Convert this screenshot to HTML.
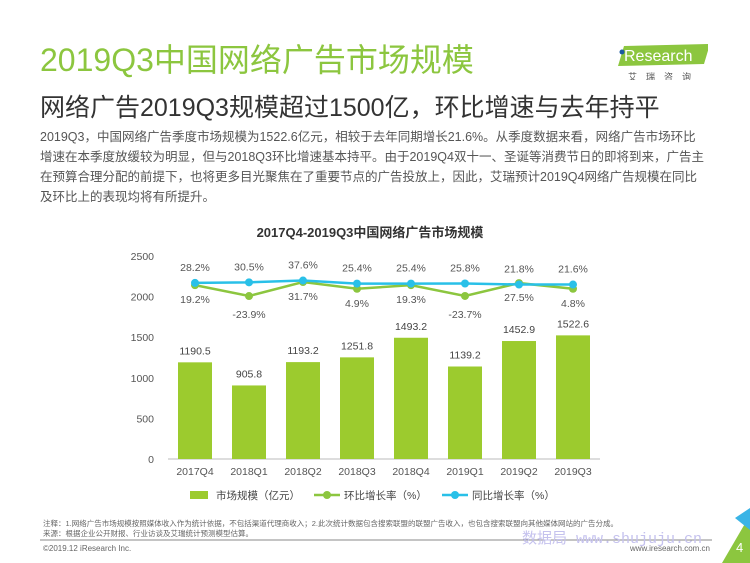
<!DOCTYPE html>
<html><head><meta charset="utf-8"><style>
body{margin:0;width:750px;height:563px;overflow:hidden;background:#fff;font-family:"Liberation Sans","Noto Sans CJK SC",sans-serif;position:relative}
.a{position:absolute;white-space:nowrap}
</style></head><body>
<div class="a" style="left:40px;top:35px;font-size:32px;color:#8cc63f">2019Q3中国网络广告市场规模</div>
<div class="a" style="left:40px;top:88px;font-size:25px;color:#333">网络广告2019Q3规模超过1500亿，环比增速与去年持平</div>
<div class="a" style="left:40px;top:127px;font-size:12.5px;color:#555;line-height:20px;white-space:normal;width:668px">2019Q3，中国网络广告季度市场规模为1522.6亿元，相较于去年同期增长21.6%。从季度数据来看，网络广告市场环比增速在本季度放缓较为明显，但与2018Q3环比增速基本持平。由于2019Q4双十一、圣诞等消费节日的即将到来，广告主在预算合理分配的前提下，也将更多目光聚焦在了重要节点的广告投放上，因此，艾瑞预计2019Q4网络广告规模在同比及环比上的表现均将有所提升。</div>
<div class="a" style="left:618px;top:40px;width:90px;height:28px">
<svg width="90" height="40"><polygon points="6,6 92,4 86,24 0,26" fill="#8cc63f"/><circle cx="4" cy="12" r="2.5" fill="#1a5aa0"/><text x="6" y="21" font-size="16" fill="#fff" font-family="Liberation Sans">Research</text><text x="10" y="40" font-size="9" fill="#555" letter-spacing="9" font-family="Noto Sans CJK SC">艾瑞咨询</text></svg></div>
<svg class="a" style="left:0;top:0" width="750" height="563" id="chart">
<text x="370" y="237" text-anchor="middle" font-size="13" font-weight="bold" fill="#333">2017Q4-2019Q3中国网络广告市场规模</text>
<g id="g"></g>
<line x1="40" y1="540" x2="712" y2="540" stroke="#888"/>
<text x="43" y="526" font-size="7.5" fill="#666">注释：1.网络广告市场规模按照媒体收入作为统计依据，不包括渠道代理商收入；2.此次统计数据包含搜索联盟的联盟广告收入，也包含搜索联盟向其他媒体网站的广告分成。</text>
<text x="43" y="536" font-size="7.5" fill="#666">来源：根据企业公开财报、行业访谈及艾瑞统计预测模型估算。</text>
<text x="522" y="543" font-size="15" fill="#c5c2ee" font-family="Liberation Mono, Noto Sans CJK SC, monospace">数据局 www.shujuju.cn</text>
<text x="43" y="551" font-size="8" fill="#666">©2019.12 iResearch Inc.</text>
<text x="710" y="551" font-size="8" fill="#666" text-anchor="end">www.iresearch.com.cn</text>
<polygon points="750,515 750,563 722,563" fill="#8cc63f"/>
<polygon points="735,518 750,508 750,530" fill="#3ab4e6"/>
<text x="736" y="552" font-size="13" fill="#fff">4</text>
</svg>
<script>
const categories=["2017Q4","2018Q1","2018Q2","2018Q3","2018Q4","2019Q1","2019Q2","2019Q3"];
const marketSize=[1190.5,905.8,1193.2,1251.8,1493.2,1139.2,1452.9,1522.6];
const qoqGrowth=[19.2,-23.9,31.7,4.9,19.3,-23.7,27.5,4.8];
const yoyGrowth=[28.2,30.5,37.6,25.4,25.4,25.8,21.8,21.6];
const yTicks=[0,500,1000,1500,2000,2500];
const NS="http://www.w3.org/2000/svg",g=document.getElementById('g');
const y=v=>459-v*203/2500, x=i=>195+i*54, y2=v=>290-v*0.252;
function el(t,a,txt){const e=document.createElementNS(NS,t);for(const k in a)e.setAttribute(k,a[k]);if(txt!=null)e.textContent=txt;g.appendChild(e);return e;}
yTicks.forEach(t=>{const e=el('text',{x:154,y:y(t)+4,'text-anchor':'end','font-size':10.5,fill:'#555'},t);

});
const ax=el('line',{x1:168,x2:600,y1:459,y2:459,stroke:'#bbb'});


categories.forEach((c,i)=>{
const b=el('rect',{x:x(i)-17,y:y(marketSize[i]),width:34,height:459-y(marketSize[i]),fill:'#9ccb2e'});


const l=el('text',{x:x(i),y:y(marketSize[i])-8,'text-anchor':'middle','font-size':10.5,fill:'#444'},marketSize[i].toFixed(1));


const t=el('text',{x:x(i),y:475,'text-anchor':'middle','font-size':10.5,fill:'#555'},c);


});
function line(vals,col,nm,above){
const p=el('polyline',{points:vals.map((v,i)=>x(i)+','+y2(v)).join(' '),fill:'none',stroke:col,'stroke-width':2.5});


vals.forEach((v,i)=>{const c=el('circle',{cx:x(i),cy:y2(v),r:4,fill:col});


const t=el('text',{x:x(i),y:above?y2(v)-12:y2(v)+(v<0?22:18),'text-anchor':'middle','font-size':10.5,fill:'#555'},v.toFixed(1)+'%');

});
}
line(qoqGrowth,'#8cc63f','qoq',false);
line(yoyGrowth,'#29c0e8','yoy',true);
const leg=[['rect','#9ccb2e','市场规模（亿元）',190],['dot','#8cc63f','环比增长率（%）',318],['dot','#29c0e8','同比增长率（%）',446]];
leg.forEach(([k,c,s,lx])=>{
if(k=='rect'){const r=el('rect',{x:lx,y:491,width:18,height:8,fill:c});}
else{el('line',{x1:lx-4,x2:lx+22,y1:495,y2:495,stroke:c,'stroke-width':2.5});const d=el('circle',{cx:lx+9,cy:495,r:4,fill:c});}
const t=el('text',{x:lx+26,y:499,'font-size':10.5,fill:'#444'},s);


});
</script>
</body></html>
